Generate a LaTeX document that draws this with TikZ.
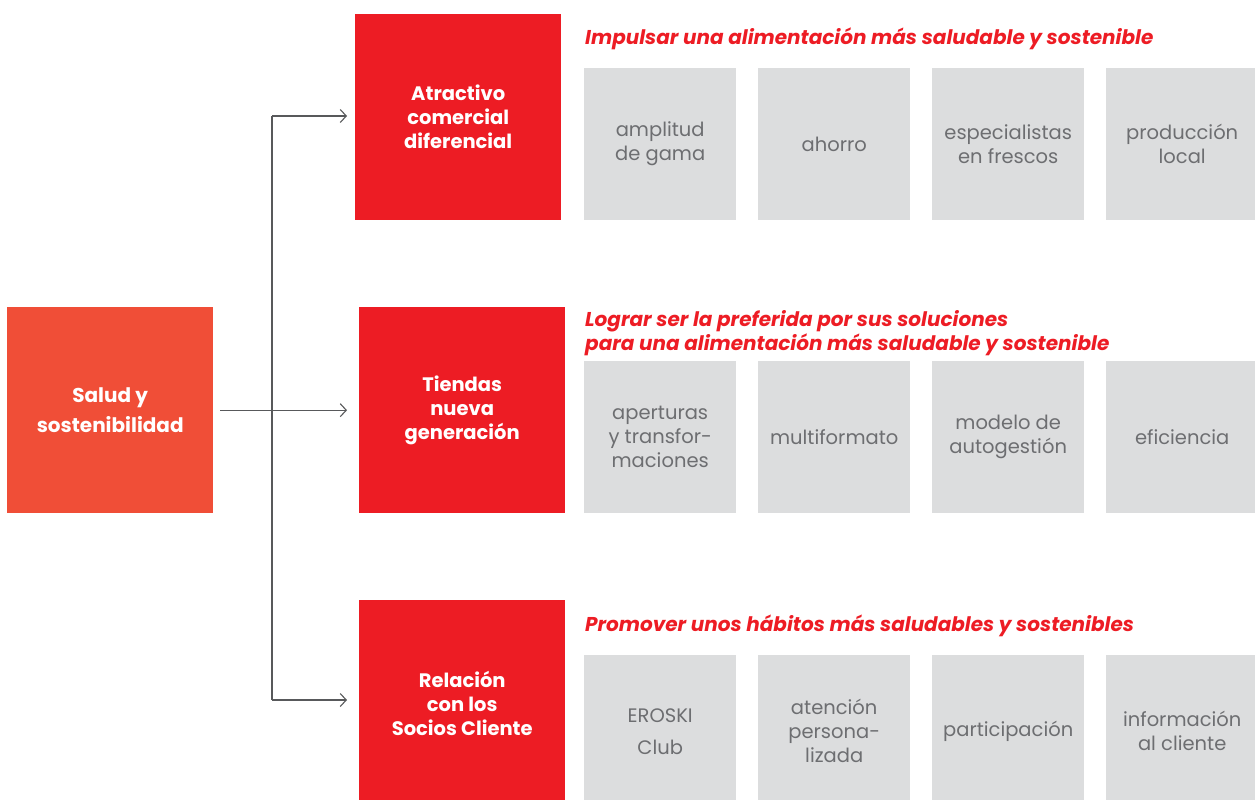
\documentclass[tikz,border=0pt]{standalone}
\usepackage{fontspec}
\setmainfont{Poppins}
\usetikzlibrary{arrows.meta,calc}
\definecolor{saludc}{HTML}{F04E37}
\definecolor{redc}{HTML}{ED1C24}
\definecolor{grayc}{HTML}{DCDDDE}
\definecolor{txtg}{HTML}{6D6E71}
\definecolor{linec}{HTML}{58595B}
\begin{document}
\begin{tikzpicture}[x=1pt,y=-1pt,
  redbox/.style={fill=redc, inner sep=0pt, anchor=north west, minimum width=206pt, minimum height=206pt, align=center, text=white, font=\bfseries\fontsize{19.5}{24}\selectfont},
  gbox/.style={fill=grayc, inner sep=0pt, anchor=north west, minimum width=152pt, minimum height=152pt, align=center, text=txtg, font=\fontsize{19.5}{24}\selectfont},
  ttl/.style={anchor=base west, inner sep=0pt, align=left, text=redc, font=\bfseries\itshape\fontsize{20}{24}\selectfont},
  conn/.style={draw=linec, line width=1.1pt},
  arr/.style={conn, -{Straight Barb[length=6pt, width=13pt, line width=1.1pt]}}
]
\clip (0,0) rectangle (1255,800);
\fill[white] (0,0) rectangle (1255,800);
% left box
\node[fill=saludc, inner sep=0pt, anchor=north west, minimum width=206pt, minimum height=206pt, align=center, text=white, font=\bfseries\fontsize{20}{30}\selectfont] (salud) at (7,307) {Salud y\\sostenibilidad};
% red boxes
\node[redbox] (atr) at (355,14) {Atractivo\\comercial\\diferencial};
\node[redbox] (tie) at (359,307) {Tiendas\\nueva\\generación};
\node[redbox] (rel) at (359,600) {Relación\\con los\\Socios Cliente};
% titles
\node[ttl] (t1) at (585,45) {Impulsar una alimentación más saludable y sostenible};
\node[ttl] (t2) at (585,350) {Lograr ser la preferida por sus soluciones\\para una alimentación más saludable y sostenible};
\node[ttl] (t3) at (585,631) {Promover unos hábitos más saludables y sostenibles};
% gray boxes row 1
\node[gbox] (g11) at (584,68) {amplitud\\de gama};
\node[gbox] (g12) at (758,68) {ahorro};
\node[gbox] (g13) at (932,68) {especialistas\\en frescos};
\node[gbox] (g14) at (1106,68) {producción\\local};
% row 2
\node[gbox] (g21) at (584,361) {aperturas\\y transfor-\\maciones};
\node[gbox] (g22) at (758,361) {multiformato};
\node[gbox] (g23) at (932,361) {modelo de\\autogestión};
\node[gbox] (g24) at (1106,361) {eficiencia};
% row 3
\node[gbox] (g31) at (584,655) {EROSKI\\[8pt]Club};
\node[gbox] (g32) at (758,655) {atención\\persona-\\lizada};
\node[gbox] (g33) at (932,655) {participación};
\node[gbox] (g34) at (1106,655) {información\\al cliente};
% connectors
\coordinate (s0) at ($(salud.east)+(7,0)$);
\coordinate (jt) at (272,116);
\coordinate (jb) at (272,700);
\coordinate (e1) at ($(atr.west)+(-8,0)$);
\coordinate (e2) at ($(tie.west)+(-12,0)$);
\coordinate (e3) at ($(rel.west)+(-12,0)$);
\draw[conn] (jt) -- (jb);
\draw[arr] (jt) -- (jt -| e1);
\draw[arr] (s0) -- (s0 -| e2);
\draw[arr] (jb) -- (jb -| e3);
\end{tikzpicture}
\end{document}
